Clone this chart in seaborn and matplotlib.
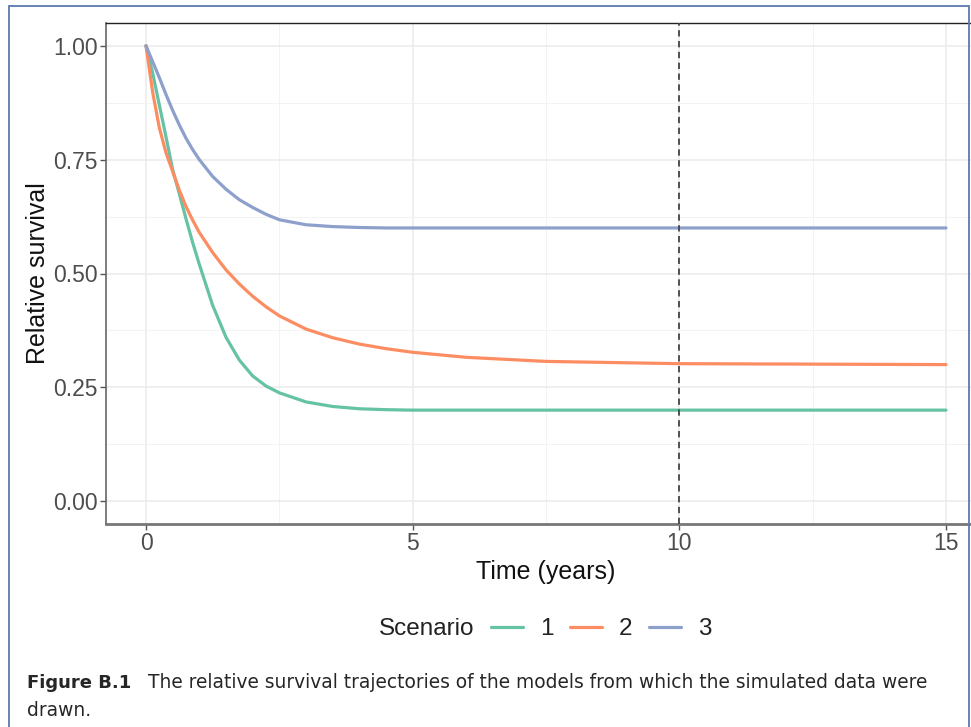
import numpy as np
import pandas as pd
import matplotlib.pyplot as plt
import seaborn as sns
from matplotlib.patches import Rectangle

# Values
times = [0, 0.125, 0.25, 0.375, 0.5, 0.625, 0.75, 0.875, 1.0, 1.25, 1.5, 1.75,
         2.0, 2.25, 2.5, 3.0, 3.5, 4.0, 4.5, 5.0, 6.0, 7.5, 10.0, 12.5, 15.0]
scenario_1 = [1.0, 0.94, 0.87, 0.80, 0.728, 0.675, 0.62, 0.568, 0.52, 0.43,
              0.36, 0.31, 0.275, 0.253, 0.238, 0.218, 0.208, 0.203, 0.201,
              0.200, 0.200, 0.200, 0.200, 0.200, 0.200]
scenario_2 = [1.0, 0.898, 0.82, 0.765, 0.724, 0.683, 0.647, 0.617, 0.59, 0.546,
              0.508, 0.477, 0.45, 0.427, 0.407, 0.378, 0.359, 0.345, 0.335,
              0.327, 0.316, 0.307, 0.302, 0.301, 0.300]
scenario_3 = [1.0, 0.965, 0.93, 0.893, 0.858, 0.826, 0.797, 0.772, 0.75, 0.713,
              0.685, 0.662, 0.645, 0.63, 0.618, 0.607, 0.603, 0.601, 0.600,
              0.600, 0.600, 0.600, 0.600, 0.600, 0.600]
scenario_names = ["1", "2", "3"]
palette = ["#66C2A5", "#FC8D62", "#8DA0CB"]

df = pd.concat([
    pd.DataFrame({"time": times, "surv": vals, "Scenario": name})
    for name, vals in zip(scenario_names, [scenario_1, scenario_2, scenario_3])
])

sns.set_theme(style="white")
plt.rcParams["font.family"] = ["Liberation Sans", "DejaVu Sans"]

fig = plt.figure(figsize=(9.71, 7.27), dpi=100)
ax = fig.add_axes([106 / 971, 1 - 524 / 727, 880 / 971, 501 / 727])

sns.lineplot(data=df, x="time", y="surv", hue="Scenario", palette=palette,
             linewidth=2.3, ax=ax)

ax.axvline(10, color="#444444", linestyle=(0, (3.5, 2.5)), linewidth=1.3, zorder=3)

# axes ranges and grid (ggplot-like)
ax.set_xlim(-0.75, 15.75)
ax.set_ylim(-0.05, 1.05)
ax.set_xticks([0, 5, 10, 15])
ax.set_yticks([0, 0.25, 0.5, 0.75, 1.0])
ax.set_yticklabels(["0.00", "0.25", "0.50", "0.75", "1.00"])
ax.set_xticks([2.5, 7.5, 12.5], minor=True)
ax.set_yticks([0.125, 0.375, 0.625, 0.875], minor=True)
ax.grid(which="major", color="#ebebeb", linewidth=1.1)
ax.grid(which="minor", color="#f3f3f3", linewidth=0.7)
ax.set_axisbelow(True)

ax.tick_params(which="major", axis="both", direction="out", length=4, width=1,
               color="#555555", labelcolor="#4d4d4d", labelsize=16.5,
               left=True, bottom=True, pad=2)
ax.tick_params(which="minor", length=0)

ax.spines["top"].set_color("#222222")
ax.spines["top"].set_linewidth(1.0)
ax.spines["left"].set_color("#666666")
ax.spines["left"].set_linewidth(1.2)
ax.spines["bottom"].set_color("#777777")
ax.spines["bottom"].set_linewidth(2.0)
ax.spines["right"].set_visible(False)

ax.set_xlabel("Time (years)", fontsize=18, labelpad=3, color="#111111")
ax.set_ylabel("Relative survival", fontsize=18, labelpad=2, color="#111111")

# legend along the bottom, title on the left
handles, labels = ax.get_legend_handles_labels()
ax.legend_.remove()
fig.text(474 / 971, 1 - 629 / 727, "Scenario", fontsize=17.5, color="#222222",
         ha="right", va="center")
fig.legend(handles, labels, loc="center left", ncol=3, frameon=False,
           bbox_to_anchor=(469 / 971, 1 - 629 / 727), fontsize=17.5,
           handlelength=1.33, handletextpad=0.7, columnspacing=0.66,
           labelcolor="#222222")

# caption
fig.text(27 / 971, 1 - 683 / 727, "Figure B.1", fontsize=13, fontweight="bold",
         family=["DejaVu Sans"], va="center")
fig.text(148 / 971, 1 - 683 / 727,
         "The relative survival trajectories of the models from which the simulated data were",
         fontsize=13.4, family=["DejaVu Sans"], va="center")
fig.text(27 / 971, 1 - 710 / 727, "drawn.", fontsize=13.4, family=["DejaVu Sans"],
         va="center")

# outer frame
fig.patches.append(Rectangle((9 / 971, -0.05), 960 / 971, 1.05 - 6 / 727,
                             transform=fig.transFigure, fill=False,
                             edgecolor="#5b7bab", linewidth=1.3))

fig.savefig("out.png", dpi=100)
